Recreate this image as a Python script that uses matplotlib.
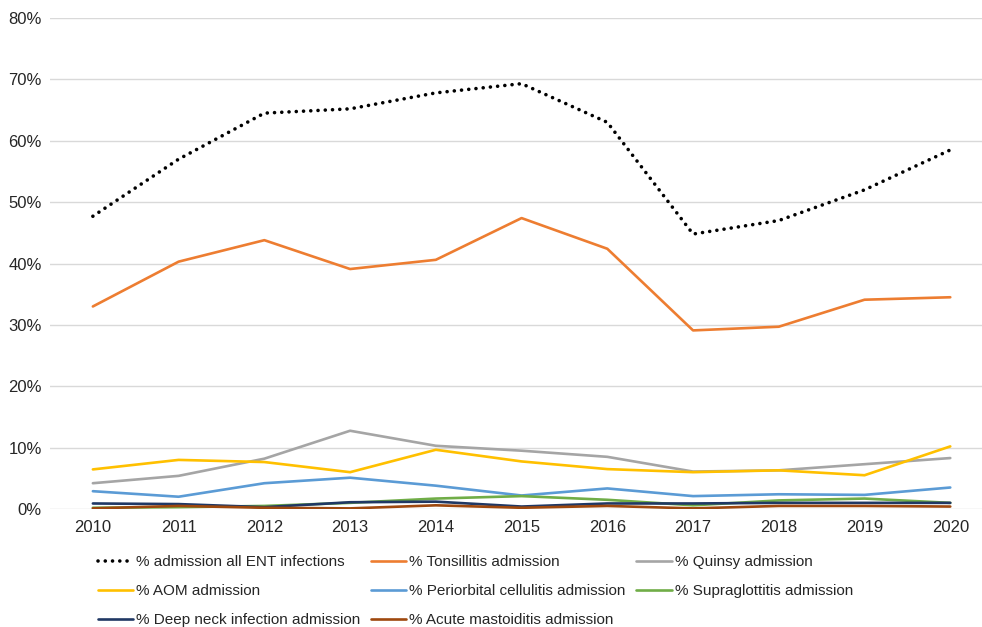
import matplotlib.pyplot as plt
from matplotlib.ticker import PercentFormatter

plt.rcParams['font.family'] = ['Liberation Sans', 'DejaVu Sans']

years = ['2010', '2011', '2012', '2013', '2014', '2015', '2016', '2017', '2018', '2019', '2020']

# valeurs en pourcentage
all_ent = [47.7, 57.0, 64.5, 65.2, 67.8, 69.3, 63.0, 44.8, 47.0, 52.0, 58.5]
tonsillitis = [33.0, 40.3, 43.8, 39.1, 40.6, 47.4, 42.4, 29.1, 29.7, 34.1, 34.5]
quinsy = [4.2, 5.4, 8.2, 12.75, 10.3, 9.5, 8.5, 6.1, 6.3, 7.3, 8.3]
aom = [6.45, 8.0, 7.65, 6.0, 9.65, 7.75, 6.5, 6.0, 6.3, 5.5, 10.2]
periorbital = [2.9, 2.0, 4.2, 5.1, 3.8, 2.2, 3.35, 2.1, 2.4, 2.3, 3.5]
supraglottitis = [0.2, 0.3, 0.5, 1.0, 1.7, 2.1, 1.5, 0.6, 1.4, 1.7, 1.0]
deep_neck = [0.9, 0.8, 0.3, 1.1, 1.2, 0.4, 0.9, 0.9, 1.0, 1.0, 1.0]
mastoiditis = [0.1, 0.5, 0.2, 0.1, 0.6, 0.2, 0.5, 0.1, 0.5, 0.5, 0.4]

series = [
    ('% admission all ENT infections', all_ent, '#000000', 'dot'),
    ('% Tonsillitis admission', tonsillitis, '#ED7D31', '-'),
    ('% Quinsy admission', quinsy, '#A5A5A5', '-'),
    ('% AOM admission', aom, '#FFC000', '-'),
    ('% Periorbital cellulitis admission', periorbital, '#5B9BD5', '-'),
    ('% Supraglottitis admission', supraglottitis, '#70AD47', '-'),
    ('% Deep neck infection admission', deep_neck, '#203864', '-'),
    ('% Acute mastoiditis admission', mastoiditis, '#9E480E', '-'),
]

fig = plt.figure(figsize=(9.82, 6.27), dpi=100)
ax = fig.add_axes([50 / 982, 118 / 627, 932 / 982, 491 / 627])

x = list(range(len(years)))
handles = []
for label, vals, color, ls in series:
    if ls == 'dot':
        # points ronds comme le pointille d'Excel
        h, = ax.plot(x, vals, color=color, linestyle=(0, (0.01, 2.0)), linewidth=2.6,
                     dash_capstyle='round', label=label, zorder=3)
    else:
        h, = ax.plot(x, vals, color=color, linestyle=ls, linewidth=1.9, label=label,
                     solid_capstyle='round', zorder=3)
    handles.append(h)

ax.set_ylim(0, 80)
ax.set_xlim(-0.5, 10.37)
ax.set_yticks(range(0, 81, 10))
ax.yaxis.set_major_formatter(PercentFormatter(decimals=0))
ax.set_xticks(x)
ax.set_xticklabels(years)
ax.grid(axis='y', color='#D9D9D9', linewidth=1)
ax.set_axisbelow(True)
for s in ax.spines.values():
    s.set_visible(False)
ax.tick_params(length=0, labelsize=12, colors='#262626')
ax.tick_params(axis='x', pad=8)
ax.tick_params(axis='y', pad=6)

# legende remplie ligne par ligne comme dans Excel
order = [0, 3, 6, 1, 4, 7, 2, 5]
fig.legend([handles[i] for i in order], [series[i][0] for i in order],
           loc='upper left', bbox_to_anchor=(98 / 982, 1 - 555 / 627), ncol=3, frameon=False,
           fontsize=11, handlelength=2.3, handletextpad=0.2, columnspacing=0.7,
           labelspacing=0.98, borderpad=0, borderaxespad=0, labelcolor='#262626')

fig.savefig('out.png', dpi=100)
